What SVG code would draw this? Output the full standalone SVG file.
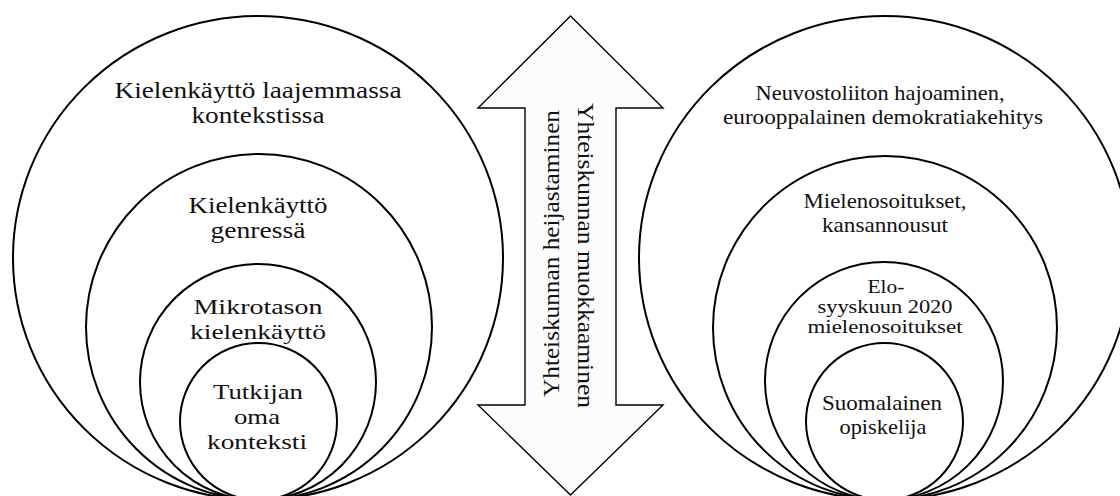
<svg xmlns="http://www.w3.org/2000/svg" width="1120" height="496" viewBox="0 0 1120 496">
  <style>
    .c { fill: none; stroke: #000; stroke-width: 2; }
    .arrow { fill: #fcfcfc; stroke: #000; stroke-width: 1.4; stroke-linejoin: miter; }
    text { font-family: "Liberation Serif", "Times New Roman", serif; fill: #111; text-anchor: middle; }
    .l { font-size: 24px; }
    .m { font-size: 22px; }
    .r { font-size: 21px; }
    .s { font-size: 18px; }
    .v { font-size: 24px; }
  </style>
  <rect x="0" y="0" width="1120" height="496" fill="#fff"/>

  <g id="left-outer">
    <ellipse class="c" cx="258" cy="258" rx="245" ry="242"/>
    <text class="l" x="258" y="98" textLength="287" lengthAdjust="spacingAndGlyphs">Kielenkäyttö laajemmassa</text>
    <text class="l" x="258" y="123" textLength="133" lengthAdjust="spacingAndGlyphs">kontekstissa</text>
  </g>
  <g id="left-genre">
    <circle class="c" cx="259" cy="327" r="173"/>
    <text class="l" x="258" y="213" textLength="139" lengthAdjust="spacingAndGlyphs">Kielenkäyttö</text>
    <text class="l" x="258" y="238" textLength="95" lengthAdjust="spacingAndGlyphs">genressä</text>
  </g>
  <g id="left-micro">
    <circle class="c" cx="258" cy="382" r="118"/>
    <text class="m" x="258" y="314" textLength="129" lengthAdjust="spacingAndGlyphs">Mikrotason</text>
    <text class="m" x="258" y="339" textLength="136" lengthAdjust="spacingAndGlyphs">kielenkäyttö</text>
  </g>
  <g id="left-own">
    <circle class="c" cx="258.5" cy="421.5" r="78.5"/>
    <text class="m" x="258" y="399" textLength="90" lengthAdjust="spacingAndGlyphs">Tutkijan</text>
    <text class="m" x="257" y="424" textLength="46" lengthAdjust="spacingAndGlyphs">oma</text>
    <text class="m" x="257" y="449" textLength="100" lengthAdjust="spacingAndGlyphs">konteksti</text>
  </g>

  <g id="connectors">
    <polygon class="arrow" points="570.5,16 663,108 616,108 616,405 663,405 570.5,495 478,405 525,405 525,108 478,108"/>
    <text class="v" transform="translate(559,253.5) rotate(-90)" textLength="287" lengthAdjust="spacingAndGlyphs">Yhteiskunnan heijastaminen</text>
    <text class="v" transform="translate(578,255.5) rotate(90)" textLength="305" lengthAdjust="spacingAndGlyphs">Yhteiskunnan muokkaaminen</text>
  </g>

  <g id="right-outer">
    <ellipse class="c" cx="885" cy="258" rx="246" ry="242"/>
    <text class="r" x="880" y="100" textLength="249" lengthAdjust="spacingAndGlyphs">Neuvostoliiton hajoaminen,</text>
    <text class="r" x="883" y="124" textLength="320" lengthAdjust="spacingAndGlyphs">eurooppalainen demokratiakehitys</text>
  </g>
  <g id="right-protests">
    <circle class="c" cx="885" cy="328" r="172"/>
    <text class="r" x="885" y="208" textLength="163" lengthAdjust="spacingAndGlyphs">Mielenosoitukset,</text>
    <text class="r" x="885" y="232" textLength="126" lengthAdjust="spacingAndGlyphs">kansannousut</text>
  </g>
  <g id="right-2020">
    <circle class="c" cx="884" cy="381" r="119"/>
    <text class="s" x="886" y="293" textLength="37" lengthAdjust="spacingAndGlyphs">Elo-</text>
    <text class="s" x="885" y="313" textLength="135" lengthAdjust="spacingAndGlyphs">syyskuun 2020</text>
    <text class="s" x="885" y="333" textLength="155" lengthAdjust="spacingAndGlyphs">mielenosoitukset</text>
  </g>
  <g id="right-student">
    <circle class="c" cx="884.5" cy="421.5" r="78.5"/>
    <text class="r" x="882" y="410" textLength="120" lengthAdjust="spacingAndGlyphs">Suomalainen</text>
    <text class="r" x="883" y="434" textLength="87" lengthAdjust="spacingAndGlyphs">opiskelija</text>
  </g>
</svg>
